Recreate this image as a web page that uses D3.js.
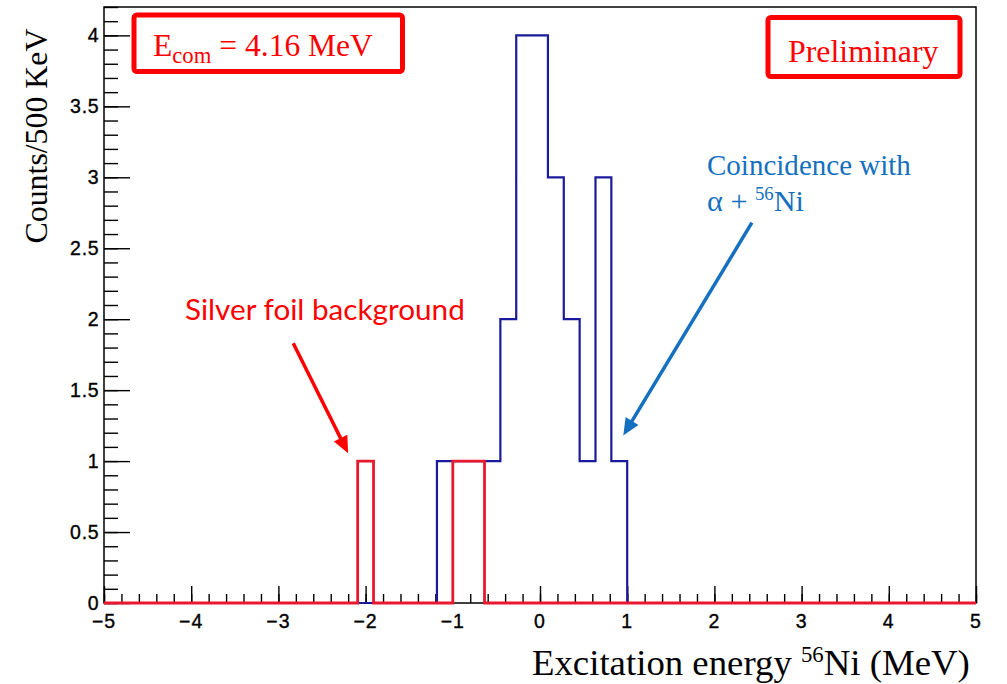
<!DOCTYPE html>
<html>
<head>
<meta charset="utf-8">
<script src="https://cdn.jsdelivr.net/npm/d3@7"></script>
<style>
  html, body { margin: 0; padding: 0; background: #fff; }
  svg { display: block; }
</style>
</head>
<body>
<svg id="chart" width="1007" height="684"></svg>
<script>
// ---------------- data ----------------
const xMin = -5, xMax = 5, nBins = 55;          // histogram binning (MeV)
const yMax = 4.2;                                // axis maximum
// counts per bin (55 bins from -5 to 5 MeV)
const blueCounts = [
  0,0,0,0,0,0,0,0,0,0, 0,0,0,0,0,0,0,0,0,0, 0,
  1,1,1,1,2,4,4,3,2,1,3,1,
  0,0,0,0,0,0,0,0,0,0, 0,0,0,0,0,0,0,0,0,0, 0,0
];
const redCounts = [
  0,0,0,0,0,0,0,0,0,0, 0,0,0,0,0,0,1,0,0,0, 0,0,
  1,1,
  0,0,0,0,0,0,0,0,0,0, 0,0,0,0,0,0,0,0,0,0, 0,0,0,0,0,0,0,0,0,0, 0
];
const xMajorTicks = [-5,-4,-3,-2,-1,0,1,2,3,4,5];
const yMajorTicks = [0,0.5,1,1.5,2,2.5,3,3.5,4];
const xTitle = ["Excitation energy ", "56", "Ni (MeV)"];
const yTitle = "Counts/500 KeV";
const energyLabel = ["E", "com", " = 4.16 MeV"];
const prelimLabel = "Preliminary";
const redNote = "Silver foil background";
const blueNote1 = "Coincidence with";
const blueNote2 = ["α + ", "56", "Ni"];
// annotation arrows in data coordinates [x, y]
const redArrow = { from: [-2.83, 1.83], to: [-2.20, 1.055] };
const blueArrow = { from: [2.43, 2.68], to: [0.955, 1.18] };

// ---------------- layout ----------------
const svg = d3.select("#chart");
const L = 104, R = 976, T = 7, B = 603;
const x = d3.scaleLinear().domain([xMin, xMax]).range([L, R]);
const y = d3.scaleLinear().domain([0, yMax]).range([B, T]);
const binW = (xMax - xMin) / nBins;

const RED = "#ff0000";
const HRED = "#e8192e";
const HBLUE = "#1a1a9c";
const NOTEBLUE = "#1570c0";
const sans = "'Liberation Sans', Arial, Helvetica, sans-serif";
const serif = "'Liberation Serif', 'Times New Roman', serif";

// frame
svg.append("rect").attr("x", L).attr("y", T).attr("width", R - L).attr("height", B - T)
  .attr("fill", "none").attr("stroke", "#000").attr("stroke-width", 1.5);

// axes with d3 axis generators (ticks drawn inward)
const xMinor = d3.range(xMin, xMax + 1e-9, 0.2).map(v => +v.toFixed(2));
const yMinor = d3.range(0, yMax + 1e-9, 0.1).map(v => +v.toFixed(2));

const gxMinor = svg.append("g").attr("transform", `translate(0,${B})`)
  .call(d3.axisTop(x).tickValues(xMinor).tickSize(9).tickFormat(""));
const gx = svg.append("g").attr("transform", `translate(0,${B})`)
  .call(d3.axisTop(x).tickValues(xMajorTicks).tickSize(17).tickFormat(""));
const gyMinor = svg.append("g").attr("transform", `translate(${L},0)`)
  .call(d3.axisRight(y).tickValues(yMinor).tickSize(14).tickFormat(""));
const gy = svg.append("g").attr("transform", `translate(${L},0)`)
  .call(d3.axisRight(y).tickValues(yMajorTicks).tickSize(26).tickFormat(""));
[gxMinor, gx, gyMinor, gy].forEach(g => {
  g.select(".domain").remove();
  g.selectAll("line").attr("stroke", "#000").attr("stroke-width", 1.4);
});

// tick labels
const fmt = d3.format("");
svg.append("g").selectAll("text").data(xMajorTicks).join("text")
  .attr("x", d => x(d)).attr("y", 627.5)
  .attr("text-anchor", "middle")
  .attr("font-family", sans).attr("font-size", 19.5)
  .attr("letter-spacing", 1)
  .attr("stroke", "#000").attr("stroke-width", 0.35)
  .text(d => fmt(d));
svg.append("g").selectAll("text").data(yMajorTicks).join("text")
  .attr("x", 99.5).attr("y", d => y(d) + 7)
  .attr("text-anchor", "end")
  .attr("font-family", sans).attr("font-size", 19.5)
  .attr("letter-spacing", 0.8)
  .attr("stroke", "#000").attr("stroke-width", 0.35)
  .text(d => fmt(d));

// ---------------- histograms ----------------
function stepPath(counts) {
  const pts = [[xMin, 0]];
  counts.forEach((c, i) => {
    const x0 = xMin + i * binW, x1 = x0 + binW;
    pts.push([x0, c], [x1, c]);
  });
  pts.push([xMax, 0]);
  return d3.line().x(d => x(d[0])).y(d => y(d[1]))(pts);
}
svg.append("path").attr("d", stepPath(blueCounts))
  .attr("fill", "none").attr("stroke", HBLUE).attr("stroke-width", 2.2)
  .attr("stroke-linejoin", "miter");
svg.append("path").attr("d", stepPath(redCounts))
  .attr("fill", "none").attr("stroke", HRED).attr("stroke-width", 2.8)
  .attr("stroke-linejoin", "miter");

// ---------------- text helpers ----------------
function richText(parent, parts, base, opts) {
  const t = parent.append("text")
    .attr("x", opts.x).attr("y", opts.y)
    .attr("font-family", opts.family).attr("fill", opts.fill)
    .attr("text-anchor", opts.anchor || "start");
  if (opts.transform) t.attr("transform", opts.transform);
  const spans = parts.map(p => t.append("tspan").text(p.t));
  function apply(sz) {
    let cur = 0;
    parts.forEach((p, i) => {
      const fs = sz * (p.size || 1);
      const off = (p.dy || 0) * sz;
      spans[i].attr("font-size", fs).attr("dy", off - cur);
      cur = off;
    });
  }
  apply(base);
  if (opts.width) {
    const w = t.node().getComputedTextLength();
    if (w > 0) apply(base * opts.width / w);
  }
  return t;
}

// axis titles
richText(svg, [
  { t: xTitle[0] },
  { t: xTitle[1], size: 0.62, dy: -0.36 },
  { t: xTitle[2] }
], 36, { x: 532, y: 675, family: serif, fill: "#000", width: 438 });

richText(svg, [{ t: yTitle }], 32,
  { x: 0, y: 0, family: serif, fill: "#000", anchor: "middle", width: 215,
    transform: "translate(47,136) rotate(-90)" });

// boxes
svg.append("rect").attr("x", 134).attr("y", 15).attr("width", 268.5).attr("height", 56.5)
  .attr("rx", 3).attr("fill", "none").attr("stroke", RED).attr("stroke-width", 5);
richText(svg, [
  { t: energyLabel[0] },
  { t: energyLabel[1], size: 0.72, dy: 0.22 },
  { t: energyLabel[2], dy: 0 }
], 32, { x: 153, y: 56, family: serif, fill: RED, width: 220 });

svg.append("rect").attr("x", 768).attr("y", 17.5).attr("width", 192).attr("height", 59)
  .attr("rx", 3).attr("fill", "none").attr("stroke", RED).attr("stroke-width", 5);
richText(svg, [{ t: prelimLabel }], 32,
  { x: 788, y: 61.5, family: serif, fill: RED, width: 150.5 });

// notes
richText(svg, [{ t: redNote }], 26,
  { x: 185, y: 320, family: "Lato, 'Open Sans', sans-serif", fill: RED, width: 280 });
richText(svg, [{ t: blueNote1 }], 29,
  { x: 707, y: 175, family: serif, fill: NOTEBLUE, width: 204 });
richText(svg, [
  { t: blueNote2[0] },
  { t: blueNote2[1], size: 0.62, dy: -0.36 },
  { t: blueNote2[2] }
], 29, { x: 707, y: 211, family: serif, fill: NOTEBLUE, width: 97 });

// arrows
function arrow(a, color) {
  const x0 = x(a.from[0]), y0 = y(a.from[1]), x1 = x(a.to[0]), y1 = y(a.to[1]);
  const dx = x1 - x0, dy = y1 - y0, len = Math.hypot(dx, dy);
  const ux = dx / len, uy = dy / len;
  const hl = 17, hw = 7.5;
  const bx = x1 - ux * hl, by = y1 - uy * hl;
  svg.append("line").attr("x1", x0).attr("y1", y0).attr("x2", bx + ux * 2).attr("y2", by + uy * 2)
    .attr("stroke", color).attr("stroke-width", 3.5);
  svg.append("path")
    .attr("d", `M${x1},${y1}L${bx - uy * hw},${by + ux * hw}L${bx + uy * hw},${by - ux * hw}Z`)
    .attr("fill", color);
}
arrow(redArrow, RED);
arrow(blueArrow, NOTEBLUE);
</script>
</body>
</html>
